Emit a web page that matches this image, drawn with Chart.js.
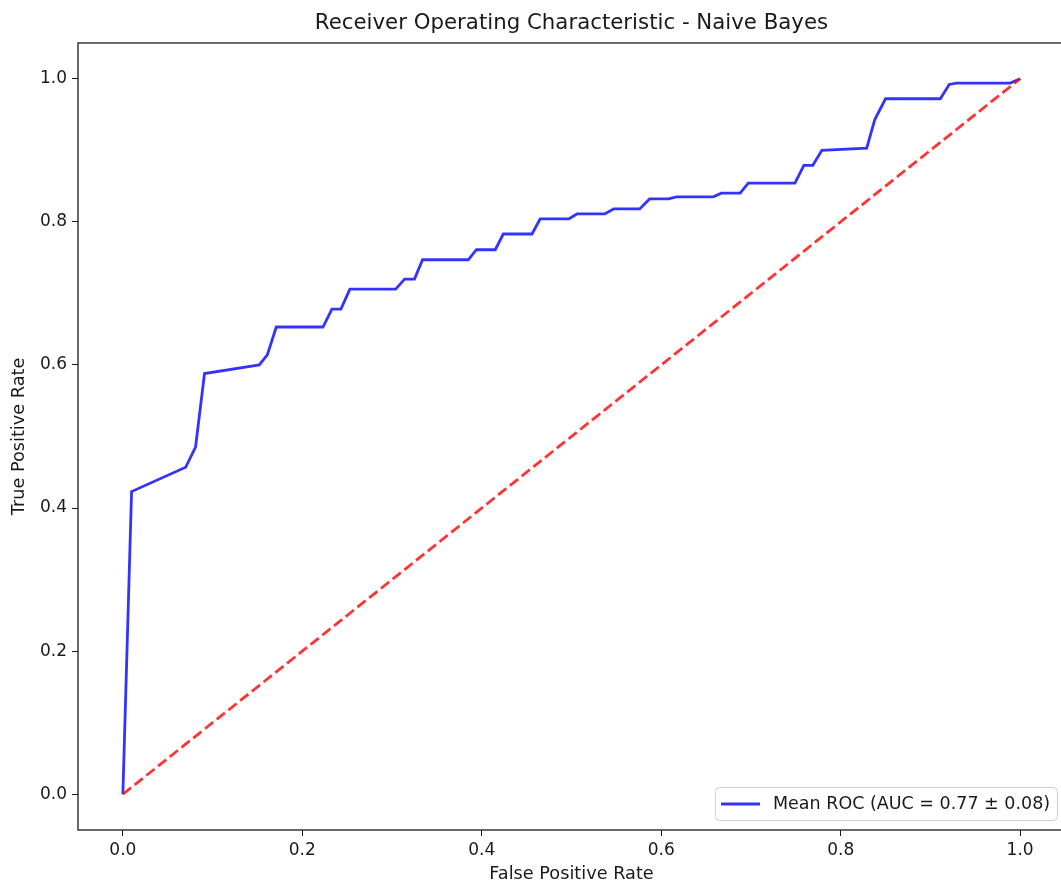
<!DOCTYPE html>
<html>
<head>
<meta charset="utf-8">
<script src="https://cdn.jsdelivr.net/npm/chart.js@4.4.1/dist/chart.umd.min.js"></script>
<style>
  html, body { margin: 0; padding: 0; background: #fff; overflow: hidden; }
  #wrap { width: 1065px; height: 887px; }
</style>
</head>
<body>
<div id="wrap"><canvas id="rocChart" width="1065" height="887"></canvas></div>
<script>
// --- 데이터 ---
const chartTitle = "Receiver Operating Characteristic - Naive Bayes";
const meanRocLabel = "Mean ROC (AUC = 0.77 ± 0.08)";

const meanFpr = [0, 0.0097, 0.070, 0.081, 0.091, 0.152, 0.161, 0.171, 0.223, 0.233, 0.243, 0.253,
    0.304, 0.314, 0.325, 0.334, 0.385, 0.394, 0.415, 0.424, 0.456, 0.465, 0.497, 0.506, 0.537,
    0.547, 0.576, 0.587, 0.608, 0.617, 0.658, 0.667, 0.688, 0.697, 0.749, 0.759, 0.769, 0.779,
    0.829, 0.838, 0.850, 0.911, 0.921, 0.929, 0.989, 1.0];
const meanTpr = [0, 0.423, 0.457, 0.485, 0.588, 0.600, 0.614, 0.653, 0.653, 0.678, 0.678, 0.706,
    0.706, 0.720, 0.720, 0.747, 0.747, 0.761, 0.761, 0.783, 0.783, 0.804, 0.804, 0.811, 0.811,
    0.818, 0.818, 0.832, 0.832, 0.835, 0.835, 0.840, 0.840, 0.854, 0.854, 0.879, 0.879, 0.900,
    0.903, 0.943, 0.972, 0.972, 0.992, 0.994, 0.994, 1.0];

const chanceFpr = [0, 1];
const chanceTpr = [0, 1];

const xTicks = [0.0, 0.2, 0.4, 0.6, 0.8, 1.0];
const yTicks = [0.0, 0.2, 0.4, 0.6, 0.8, 1.0];
const axisMin = -0.05;
const axisMax = 1.05;

const FONT = "'DejaVu Sans', 'Liberation Sans', sans-serif";
const INK = '#1a1a1a';

// 사방 테두리 (matplotlib 스파인)
const framePlugin = {
    id: 'frame',
    afterDatasetsDraw(chart) {
        const { ctx, chartArea: a } = chart;
        ctx.save();
        ctx.strokeStyle = '#1a1a1a';
        ctx.lineWidth = 1.3;
        ctx.strokeRect(a.left, a.top, a.right - a.left, a.bottom - a.top);
        ctx.restore();
    }
};

// 오른쪽 아래 범례 박스
const lowerRightLegend = {
    id: 'lowerRightLegend',
    afterDraw(chart) {
        const { ctx } = chart;
        const ds = chart.data.datasets[0];
        const x0 = 715, y0 = 787, w = 342, h = 33;
        ctx.save();
        ctx.fillStyle = 'rgba(255,255,255,0.8)';
        ctx.strokeStyle = '#d0d0d0';
        ctx.lineWidth = 1;
        ctx.beginPath();
        ctx.roundRect(x0 + 0.5, y0 + 0.5, w, h, 4);
        ctx.fill();
        ctx.stroke();

        ctx.strokeStyle = ds.borderColor;
        ctx.lineWidth = ds.borderWidth;
        ctx.beginPath();
        ctx.moveTo(721, y0 + h / 2 + 0.5);
        ctx.lineTo(760, y0 + h / 2 + 0.5);
        ctx.stroke();

        ctx.fillStyle = INK;
        ctx.font = `17.5px ${FONT}`;
        ctx.textBaseline = 'middle';
        ctx.textAlign = 'left';
        ctx.fillText(ds.label, 773, y0 + h / 2 + 1);
        ctx.restore();
    }
};

const toPoints = (xs, ys) => xs.map((x, i) => ({ x: x, y: ys[i] }));

const tickFont = { family: FONT, size: 17 };
const labelFont = { family: FONT, size: 17.7 };

new Chart(document.getElementById('rocChart').getContext('2d'), {
    type: 'line',
    data: {
        datasets: [
            {
                label: meanRocLabel,
                data: toPoints(meanFpr, meanTpr),
                borderColor: 'rgba(0, 0, 255, 0.8)',
                borderWidth: 2.8,
                pointRadius: 0,
                tension: 0,
                fill: false,
                order: 2
            },
            {
                label: 'Chance',
                data: toPoints(chanceFpr, chanceTpr),
                borderColor: 'rgba(255, 0, 0, 0.8)',
                borderWidth: 2.8,
                borderDash: [10.5, 4.5],
                pointRadius: 0,
                tension: 0,
                fill: false,
                order: 1
            }
        ]
    },
    options: {
        responsive: false,
        animation: false,
        layout: { padding: 0 },
        scales: {
            x: {
                type: 'linear',
                min: axisMin,
                max: axisMax,
                afterBuildTicks: s => { s.ticks = xTicks.map(v => ({ value: v })); },
                afterFit: s => { s.height = 57; },
                grid: { display: true, drawOnChartArea: false, drawTicks: true, tickLength: 6, tickColor: '#1a1a1a' },
                border: { display: false },
                ticks: { font: tickFont, color: INK, padding: 4, maxRotation: 0, callback: v => v.toFixed(1) },
                title: { display: true, text: 'False Positive Rate', font: labelFont, color: INK, padding: { top: 0, bottom: 2 } }
            },
            y: {
                type: 'linear',
                min: axisMin,
                max: axisMax,
                afterBuildTicks: s => { s.ticks = yTicks.map(v => ({ value: v })); },
                afterFit: s => { s.width = 78; },
                grid: { display: true, drawOnChartArea: false, drawTicks: true, tickLength: 6, tickColor: '#1a1a1a' },
                border: { display: false },
                ticks: { font: tickFont, color: INK, padding: 5, callback: v => v.toFixed(1) },
                title: { display: true, text: 'True Positive Rate', font: labelFont, color: INK, padding: { top: 9, bottom: 0 } }
            }
        },
        plugins: {
            legend: { display: false },
            tooltip: { enabled: false },
            title: {
                display: true,
                text: chartTitle,
                fullSize: false,
                color: INK,
                font: { family: FONT, size: 21.3, weight: 'normal' },
                padding: { top: 11, bottom: 6.4 }
            }
        }
    },
    plugins: [framePlugin, lowerRightLegend]
});
</script>
</body>
</html>
